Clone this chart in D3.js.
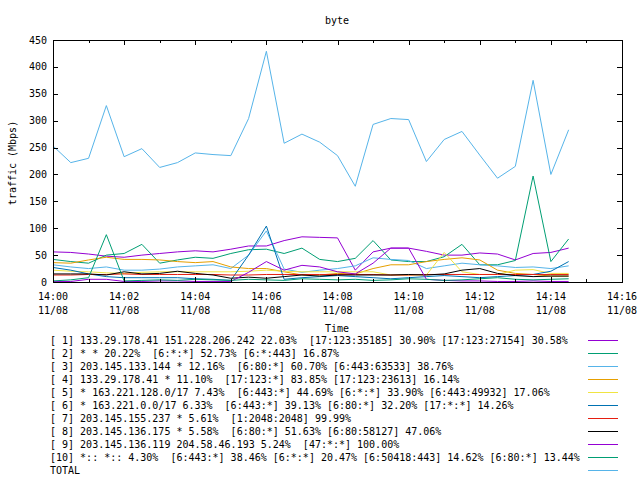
<!DOCTYPE html>
<html><head><meta charset="utf-8">
<script src="https://cdn.jsdelivr.net/npm/d3@7"></script>
<style>
html,body{margin:0;padding:0;background:#fff;}
svg{display:block;}
text{font-family:"DejaVu Sans Mono","Liberation Mono",monospace;font-size:10px;fill:#000;}
</style></head>
<body>
<script>
const times = ["14:00:00","14:00:30","14:01:00","14:01:30","14:02:00","14:02:30","14:03:00","14:03:30","14:04:00","14:04:30",
"14:05:00","14:05:30","14:06:00","14:06:30","14:07:00","14:07:30","14:08:00","14:08:30","14:09:00","14:09:30",
"14:10:00","14:10:30","14:11:00","14:11:30","14:12:00","14:12:30","14:13:00","14:13:30","14:14:00","14:14:30"];

const s1  = [56,55,52,48,46,50,53,56,58,56,61,67,67,77,84,83,82,22,56,63,63,57,50,50,54,52,41,53,55,63];
const s2  = [42,38,35,50,53,70,35,41,46,44,53,60,61,53,63,42,38,44,77,41,38,38,47,70,32,32,40,197,38,80];
const s3  = [32,28,25,28,22,22,24,28,30,32,25,50,95,24,18,22,25,30,45,42,40,25,30,35,32,30,27,28,25,30];
const s4  = [36,35,41,46,42,42,41,38,36,38,28,25,25,19,13,13,16,15,25,32,32,38,42,45,41,22,16,14,11,11];
const s5  = [22,20,19,17,16,18,19,19,19,19,19,20,22,20,19,19,19,19,19,13,13,13,55,19,14,14,22,23,16,16];
const s6  = [27,22,15,10,8,8,8,8,6,5,3,50,104,5,8,10,12,10,8,6,8,10,12,10,8,10,12,14,20,38];
const s7  = [13,13,14,14,15,14,14,14,14,14,13,13,14,14,14,14,14,14,14,13,13,14,14,14,14,14,14,14,14,14];
const s8  = [15,15,15,13,19,15,16,20,16,13,7,9,7,10,13,11,13,13,13,13,14,13,15,22,25,16,12,10,11,11];
const s9  = [1,1,5,5,1,1,2,2,1,1,1,18,38,22,31,28,19,15,35,63,63,5,3,2,2,1,1,2,1,1];
const s10 = [2,4,8,88,2,3,4,3,5,4,3,5,4,3,6,5,4,5,3,4,6,5,3,4,6,8,5,4,5,6];
const total = [253,222,230,328,233,248,213,222,240,237,235,304,429,258,275,260,235,178,293,304,302,224,265,280,236,193,215,375,200,283];

const seriesNames = [
 "[ 1] 133.29.178.41 151.228.206.242 22.03%  [17:123:35185] 30.90% [17:123:27154] 30.58%",
 "[ 2] * * 20.22%  [6:*:*] 52.73% [6:*:443] 16.87%",
 "[ 3] 203.145.133.144 * 12.16%  [6:80:*] 60.70% [6:443:63533] 38.76%",
 "[ 4] 133.29.178.41 * 11.10%  [17:123:*] 83.85% [17:123:23613] 16.14%",
 "[ 5] * 163.221.128.0/17 7.43%  [6:443:*] 44.69% [6:*:*] 33.90% [6:443:49932] 17.06%",
 "[ 6] * 163.221.0.0/17 6.33%  [6:443:*] 39.13% [6:80:*] 32.20% [17:*:*] 14.26%",
 "[ 7] 203.145.155.237 * 5.61%  [1:2048:2048] 99.99%",
 "[ 8] 203.145.136.175 * 5.58%  [6:80:*] 51.63% [6:80:58127] 47.06%",
 "[ 9] 203.145.136.119 204.58.46.193 5.24%  [47:*:*] 100.00%",
 "[10] *:: *:: 4.30%  [6:443:*] 38.46% [6:*:*] 20.47% [6:50418:443] 14.62% [6:80:*] 13.44%",
 "TOTAL"
];
const seriesColors = ["#9400d3","#009e73","#56b4e9","#e69f00","#f0e442","#0072b2","#e51e10","#000000","#9400d3","#009e73","#56b4e9"];
const seriesValues = [s1,s2,s3,s4,s5,s6,s7,s8,s9,s10,total];

const yTicks = [0,50,100,150,200,250,300,350,400,450];
const xMajorLabels = ["14:00","14:02","14:04","14:06","14:08","14:10","14:12","14:14","14:16"];
const dateLabel = "11/08";
const title = "byte", xTitle = "Time", yTitle = "traffic (Mbps)";

const W = 640, H = 480;
const L = 53, R = 622, T = 40, B = 282;
const parse = d3.timeParse("%H:%M:%S");
const x = d3.scaleTime().domain([parse("14:00:00"), parse("14:16:00")]).range([L, R]);
const y = d3.scaleLinear().domain([0, 450]).range([B, T]);

const svg = d3.select("body").append("svg").attr("width", W).attr("height", H);

// data lines
const line = d3.line().x((d, i) => x(parse(times[i]))).y(d => y(d));
seriesValues.forEach((vals, k) => {
  svg.append("path").datum(vals).attr("d", line)
    .attr("fill", "none").attr("stroke", seriesColors[k]).attr("stroke-width", 1);
});

// axes
const majorTimes = xMajorLabels.map(s => parse(s + ":00"));
const minorTimes = d3.range(0, 17).filter(m => m % 2 === 1).map(m => parse(`14:${String(m).padStart(2,"0")}:00`));
const ax = svg.append("g").attr("class","axes").attr("shape-rendering","crispEdges");
ax.append("g").attr("transform", `translate(0,${B})`).call(d3.axisBottom(x).tickValues(majorTimes).tickSize(-5).tickSizeOuter(0).tickFormat(""));
ax.append("g").attr("transform", `translate(0,${B})`).call(d3.axisBottom(x).tickValues(minorTimes).tickSize(-3).tickSizeOuter(0).tickFormat(""));
ax.append("g").attr("transform", `translate(0,${T})`).call(d3.axisTop(x).tickValues(majorTimes).tickSize(-5).tickSizeOuter(0).tickFormat(""));
ax.append("g").attr("transform", `translate(0,${T})`).call(d3.axisTop(x).tickValues(minorTimes).tickSize(-3).tickSizeOuter(0).tickFormat(""));
ax.append("g").attr("transform", `translate(${L},0)`).call(d3.axisLeft(y).tickValues(yTicks).tickSize(-5).tickSizeOuter(0).tickFormat(""));
ax.append("g").attr("transform", `translate(${R},0)`).call(d3.axisRight(y).tickValues(yTicks).tickSize(-5).tickSizeOuter(0).tickFormat(""));
ax.selectAll("path.domain").remove();
ax.selectAll("line").attr("stroke","#000");
ax.append("rect").attr("x", L).attr("y", T).attr("width", R - L).attr("height", B - T)
  .attr("fill","none").attr("stroke","#000");

// tick labels
svg.append("g").selectAll("text").data(yTicks).join("text")
  .attr("x", L - 6).attr("y", d => y(d)).attr("dy","0.35em").attr("text-anchor","end").text(d => d);
const xl = svg.append("g").selectAll("g").data(xMajorLabels).join("g");
xl.append("text").attr("x", (d) => x(parse(d + ":00"))).attr("y", 300).attr("text-anchor","middle").text(d => d);
xl.append("text").attr("x", (d) => x(parse(d + ":00"))).attr("y", 314).attr("text-anchor","middle").text(dateLabel);

svg.append("text").attr("x", 337).attr("y", 24).attr("text-anchor","middle").text(title);
svg.append("text").attr("x", 337).attr("y", 332).attr("text-anchor","middle").text(xTitle);
svg.append("text").attr("transform", `translate(16,${(T + B) / 2 + 2}) rotate(-90)`).attr("text-anchor","middle").text(yTitle);

// legend
const lg = svg.append("g").selectAll("g").data(seriesNames).join("g")
  .attr("transform", (d, i) => `translate(0,${340 + i * 13})`);
lg.append("text").attr("x", 50).attr("y", 0).attr("dy","0.35em").attr("xml:space","preserve").style("white-space","pre").text(d => d);
lg.append("line").attr("x1", 588).attr("x2", 618).attr("y1", 0.5).attr("y2", 0.5)
  .attr("stroke", (d, i) => seriesColors[i]).attr("stroke-width", 1);
</script>
</body></html>
